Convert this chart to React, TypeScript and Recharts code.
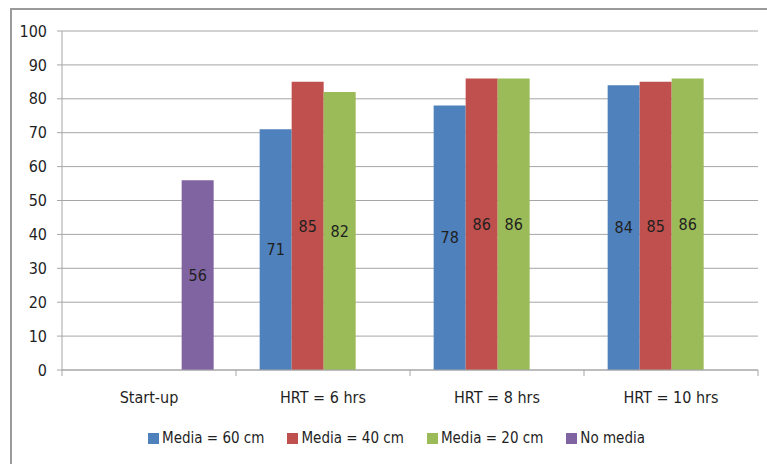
import { BarChart, Bar, XAxis, YAxis, CartesianGrid, LabelList } from "recharts"

const categories = ["Start-up", "HRT = 6 hrs", "HRT = 8 hrs", "HRT = 10 hrs"]
const media60 = [null, 71, 78, 84]
const media40 = [null, 85, 86, 85]
const media20 = [null, 82, 86, 86]
const noMedia = [56, null, null, null]
const yTicks = [0, 10, 20, 30, 40, 50, 60, 70, 80, 90, 100]

const series = [
  { key: "m60", name: "Media = 60 cm", color: "#4F81BD", values: media60 },
  { key: "m40", name: "Media = 40 cm", color: "#C0504D", values: media40 },
  { key: "m20", name: "Media = 20 cm", color: "#9BBB59", values: media20 },
  { key: "none", name: "No media", color: "#8064A2", values: noMedia },
]

const data = categories.map((name, i) => {
  const row: Record<string, string | number | null> = { name }
  series.forEach((s) => {
    row[s.key] = s.values[i]
  })
  return row
})

const FONT = "'Liberation Sans Narrow', 'DejaVu Sans Condensed', 'Liberation Sans', sans-serif"
const TEXT = "#1f1f1f"
const GRID = "#a6a6a6"

// category label plus tick marks on the band edges
function CategoryTick(props: any) {
  const { x, y, payload, index, visibleTicksCount } = props
  const half = payload?.offset ?? 0
  const last = index === visibleTicksCount - 1
  return (
    <g>
      <line x1={x - half} x2={x - half} y1={y} y2={y + 6} stroke={GRID} />
      {last && <line x1={x + half} x2={x + half} y1={y} y2={y + 6} stroke={GRID} />}
      <text x={x} y={y + 33} textAnchor="middle" fontSize={16} fill={TEXT} fontFamily={FONT}>
        {payload.value}
      </text>
    </g>
  )
}

function LegendRow() {
  return (
    <div
      style={{
        position: "absolute",
        top: 429,
        left: 148,
        display: "flex",
        gap: 23,
        fontFamily: FONT,
        fontSize: 15,
        color: TEXT,
        whiteSpace: "nowrap",
      }}
    >
      {series.map((s) => (
        <div key={s.key} style={{ display: "flex", alignItems: "center", gap: 3 }}>
          <span style={{ width: 11, height: 11, background: s.color, display: "inline-block" }} />
          <span>{s.name}</span>
        </div>
      ))}
    </div>
  )
}

export default function App() {
  return (
    <div style={{ position: "absolute", left: 0, top: 0, width: 767, height: 464, background: "#fff" }}>
      <div
        style={{
          position: "absolute",
          left: 10,
          top: 8,
          width: 757,
          height: 456,
          borderTop: "2px solid #9a9a9a",
          borderLeft: "2px solid #9a9a9a",
          boxSizing: "border-box",
        }}
      />
      <BarChart
        width={767}
        height={464}
        data={data}
        margin={{ top: 31, right: 9, left: 0, bottom: 54 }}
        barCategoryGap="13.6%"
        barGap={0}
        style={{ position: "absolute", left: 0, top: 0 }}
      >
        <CartesianGrid vertical={false} stroke={GRID} />
        <XAxis
          dataKey="name"
          height={40}
          axisLine={{ stroke: GRID }}
          tickLine={false}
          tickSize={0}
          tickMargin={0}
          interval={0}
          tick={<CategoryTick />}
        />
        <YAxis
          width={62}
          domain={[0, 100]}
          ticks={yTicks}
          interval={0}
          axisLine={{ stroke: GRID }}
          tickLine={{ stroke: GRID }}
          tickSize={5}
          tickMargin={10}
          tick={{ fontSize: 16, fill: TEXT, fontFamily: FONT }}
        />
        {series.map((s) => (
          <Bar key={s.key} dataKey={s.key} name={s.name} fill={s.color} isAnimationActive={false}>
            <LabelList
              dataKey={s.key}
              position="center"
              fill={TEXT}
              fontSize={16}
              fontFamily={FONT}
              formatter={(v: any) => (v == null ? "" : v)}
            />
          </Bar>
        ))}
      </BarChart>
      <LegendRow />
    </div>
  )
}
